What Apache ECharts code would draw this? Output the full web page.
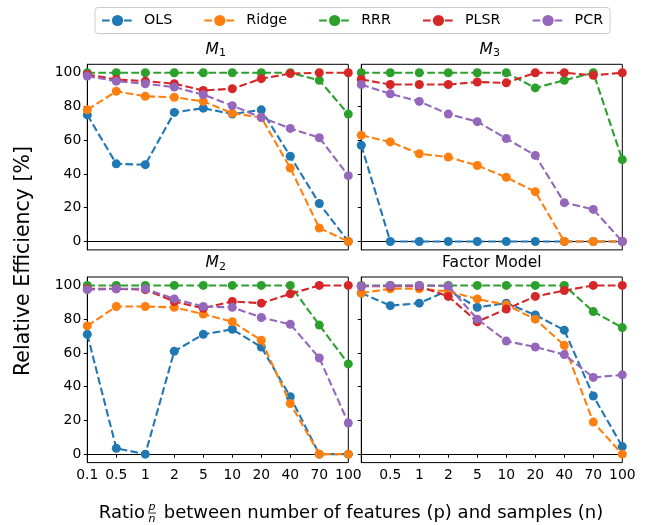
<!DOCTYPE html>
<html>
<head>
<meta charset="utf-8">
<script src="https://cdn.jsdelivr.net/npm/echarts@6/dist/echarts.min.js"></script>
<style>
html,body{margin:0;padding:0;background:#fff;}
#chart{width:648px;height:525px;}
</style>
</head>
<body>
<div id="chart"></div>
<script>
// ---- data ----
var categories = ['0.1','0.5','1','2','5','10','20','40','70','100'];
var yTicks = [0, 20, 40, 60, 80, 100];
var seriesNames = ['OLS','Ridge','RRR','PLSR','PCR'];
var seriesColors = ['#1f77b4','#ff7f0e','#2ca02c','#d62728','#9467bd'];

// M1 (top-left)
var ols_M1   = [75, 46, 45.5, 76.5, 79, 75.5, 78, 50.5, 22.5, 0];
var ridge_M1 = [78, 89, 86, 85.5, 83, 76, 73.5, 43.5, 8, 0];
var rrr_M1   = [100, 100, 100, 100, 100, 100, 100, 100, 95.5, 75.5];
var plsr_M1  = [99, 96, 95, 93.5, 89.5, 90.5, 96.5, 99.5, 100, 100];
var pcr_M1   = [98, 95, 93.5, 91.5, 87, 80.5, 73.5, 67, 61.5, 39];

// M3 (top-right)
var ols_M3   = [57, 0, 0, 0, 0, 0, 0, 0, 0, 0];
var ridge_M3 = [63, 59, 52, 50, 45, 38, 29.5, 0, 0, 0];
var rrr_M3   = [100, 100, 100, 100, 100, 100, 91, 95.5, 100, 48.5];
var plsr_M3  = [96, 93, 93, 93, 94.5, 94, 100, 100, 98.5, 100];
var pcr_M3   = [93, 87.5, 83, 75.5, 71, 61, 51, 23, 19, 0];

// M2 (bottom-left)
var ols_M2   = [71, 3.5, 0, 61, 71, 74, 63.5, 34, 0, 0];
var ridge_M2 = [76, 87.5, 87.5, 87, 83, 78.5, 67.5, 30, 0, 0];
var rrr_M2   = [100, 100, 100, 100, 100, 100, 100, 100, 76.5, 53.5];
var plsr_M2  = [98, 98, 97.5, 90.5, 86.5, 90.5, 89.5, 95, 100, 100];
var pcr_M2   = [97.5, 98, 98, 92, 87.5, 87, 81, 77, 57, 18.5];

// Factor Model (bottom-right)
var ols_F    = [95.5, 88, 89.5, 97, 87, 89.5, 82.5, 73.5, 34.5, 4.5];
var ridge_F  = [95.5, 98, 98, 96.5, 92, 88.5, 80, 64.5, 19, 0];
var rrr_F    = [100, 100, 100, 100, 100, 100, 100, 100, 84.5, 75];
var plsr_F   = [99.5, 99.5, 99.5, 93.5, 78.5, 86, 93.5, 97, 100, 100];
var pcr_F    = [99.5, 100, 100, 99.5, 80, 67, 63.5, 59, 45.5, 47];

var panelData = [
  [ols_M1, ridge_M1, rrr_M1, plsr_M1, pcr_M1],
  [ols_M3, ridge_M3, rrr_M3, plsr_M3, pcr_M3],
  [ols_M2, ridge_M2, rrr_M2, plsr_M2, pcr_M2],
  [ols_F, ridge_F, rrr_F, plsr_F, pcr_F]
];

// ---- layout ----
var FONT = 'DejaVu Sans';
var PW = 261, PH = 185.6;
var grids = [
  {left: 87.3, top: 64.3},
  {left: 361.3, top: 64.3},
  {left: 87.3, top: 277},
  {left: 361.3, top: 277}
];

var option = {
  animation: false,
  backgroundColor: '#fff',
  textStyle: {fontFamily: FONT},
  grid: [], xAxis: [], yAxis: [], series: [],
  legend: {
    data: seriesNames,
    left: 95, top: 7.5,
    padding: [6, 7, 6, 6],
    itemGap: 31,
    itemWidth: 31, itemHeight: 14,
    borderColor: '#cccccc', borderWidth: 1, borderRadius: 3,
    textStyle: {fontFamily: FONT, fontSize: 14.3, color: '#000', padding: [0, 0, 0, 6]}
  },
  graphic: []
};

grids.forEach(function (g, gi) {
  var isBottom = gi >= 2, isLeft = gi % 2 === 0;
  option.grid.push({left: g.left, top: g.top, width: PW, height: PH, show: true,
    borderColor: '#000', borderWidth: 1, containLabel: false});
  option.xAxis.push({
    type: 'category', gridIndex: gi, data: categories, boundaryGap: false,
    axisLine: {show: true, lineStyle: {color: '#000', width: 1}},
    axisTick: {show: isBottom, length: 3.5, lineStyle: {color: '#000', width: 1}},
    axisLabel: {show: isBottom, interval: 0, margin: 6, color: '#000', fontFamily: FONT, fontSize: 13.9,
      formatter: function (v, i) { return (gi === 3 && i === 0) ? '' : v; }},
    splitLine: {show: false}
  });
  option.yAxis.push({
    type: 'value', gridIndex: gi, min: -5, max: 105,
    axisLine: {show: true, lineStyle: {color: '#000', width: 1}},
    axisTick: {show: true, length: 3.5, customValues: yTicks, lineStyle: {color: '#000', width: 1}},
    axisLabel: {show: isLeft, customValues: yTicks, margin: 6, color: '#000', fontFamily: FONT, fontSize: 13.9},
    splitLine: {show: false}
  });
  panelData[gi].forEach(function (arr, si) {
    option.series.push({
      type: 'line', name: seriesNames[si], xAxisIndex: gi, yAxisIndex: gi,
      data: arr, symbol: 'circle', symbolSize: 9, showSymbol: true,
      color: seriesColors[si],
      itemStyle: {color: seriesColors[si]},
      lineStyle: {color: seriesColors[si], width: 2.1, type: [7.7, 3.3]},
      z: 2 + si
    });
  });
});

// titles
function mathTitle(cx, cy, sub) {
  return [
    {type: 'text', x: cx - 5.5, y: cy, style: {text: 'M', fontFamily: FONT, fontStyle: 'italic', fontSize: 15.5, fill: '#000', align: 'center', verticalAlign: 'middle'}},
    {type: 'text', x: cx + 4.8, y: cy + 3.8, style: {text: sub, fontFamily: FONT, fontSize: 11, fill: '#000', align: 'center', verticalAlign: 'middle'}}
  ];
}
option.graphic = option.graphic.concat(mathTitle(87.3 + PW / 2, 49.5, '1'));
option.graphic = option.graphic.concat(mathTitle(361.3 + PW / 2, 49.5, '3'));
option.graphic = option.graphic.concat(mathTitle(87.3 + PW / 2, 263, '2'));
option.graphic.push({type: 'text', x: 361.3 + PW / 2, y: 263, style: {text: 'Factor Model', fontFamily: FONT, fontSize: 15.6, fill: '#000', align: 'center', verticalAlign: 'middle'}});

// y axis label
option.graphic.push({type: 'text', x: 24, y: 261, rotation: Math.PI / 2,
  style: {text: 'Relative Efficiency [%]', fontFamily: FONT, fontSize: 20.5, fill: '#000', align: 'center', verticalAlign: 'middle'}});

// x axis label with fraction p/n
var fx = 152, fy = 513;
option.graphic.push({type: 'text', x: fx - 7, y: fy, style: {text: 'Ratio', fontFamily: FONT, fontSize: 18, fill: '#000', align: 'right', verticalAlign: 'middle'}});
option.graphic.push({type: 'text', x: fx, y: fy - 6, style: {text: 'p', fontFamily: FONT, fontStyle: 'italic', fontSize: 11, fill: '#000', align: 'center', verticalAlign: 'middle'}});
option.graphic.push({type: 'line', shape: {x1: fx - 4, y1: fy, x2: fx + 4, y2: fy}, style: {stroke: '#000', lineWidth: 0.8}});
option.graphic.push({type: 'text', x: fx, y: fy + 6, style: {text: 'n', fontFamily: FONT, fontStyle: 'italic', fontSize: 11, fill: '#000', align: 'center', verticalAlign: 'middle'}});
option.graphic.push({type: 'text', x: fx + 6, y: fy, style: {text: ' between number of features (p) and samples (n)', fontFamily: FONT, fontSize: 18, fill: '#000', align: 'left', verticalAlign: 'middle'}});

var chart = echarts.init(document.getElementById('chart'), null, {renderer: 'canvas'});
chart.setOption(option);
</script>
</body>
</html>
